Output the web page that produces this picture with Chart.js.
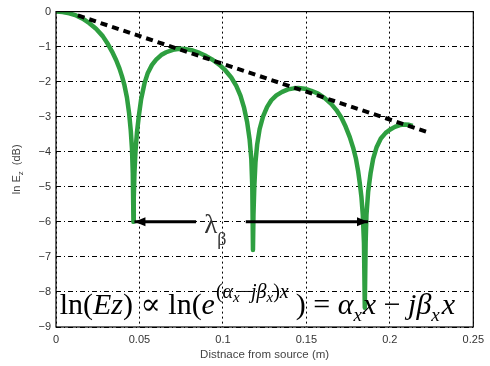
<!DOCTYPE html>
<html>
<head>
<meta charset="utf-8">
<script src="https://cdn.jsdelivr.net/npm/chart.js@4/dist/chart.umd.min.js"></script>
<style>
  html, body { margin: 0; padding: 0; background: #fff; }
  #wrap { width: 490px; height: 366px; }
</style>
</head>
<body>
<div id="wrap"><canvas id="c" width="490" height="366"></canvas></div>
<script>
// ---- data ----
const xTicks = [0, 0.05, 0.1, 0.15, 0.2, 0.25];
const xTickLabels = ["0", "0.05", "0.1", "0.15", "0.2", "0.25"];
const yTicks = [0, -1, -2, -3, -4, -5, -6, -7, -8, -9];
const yTickLabels = ["0", "\u22121", "\u22122", "\u22123", "\u22124", "\u22125", "\u22126", "\u22127", "\u22128", "\u22129"];

// field magnitude curve (green)
const fieldX = [0, 0.004, 0.008, 0.012, 0.016, 0.020, 0.024, 0.028, 0.031, 0.034, 0.036, 0.038, 0.0395, 0.041, 0.0425, 0.0438, 0.0448, 0.0455, 0.0460, 0.0464,
  0.0466, 0.0470, 0.0476, 0.0485, 0.0497, 0.051, 0.053, 0.055, 0.0575, 0.060, 0.063, 0.066, 0.070, 0.074, 0.078, 0.082, 0.086, 0.090, 0.094, 0.098, 0.1015, 0.105, 0.108, 0.1105, 0.1127, 0.1145, 0.116, 0.117, 0.1176, 0.1180,
  0.1183, 0.1188, 0.1195, 0.1205, 0.122, 0.124, 0.1265, 0.129, 0.132, 0.1355, 0.139, 0.1425, 0.1452, 0.149, 0.153, 0.157, 0.161, 0.165, 0.168, 0.171, 0.1735, 0.176, 0.178, 0.1797, 0.181, 0.182, 0.183, 0.1838, 0.1845, 0.1850,
  0.1855, 0.186, 0.187, 0.1885, 0.190, 0.192, 0.1946, 0.1975, 0.200, 0.203, 0.206, 0.209, 0.2115, 0.2137];
const fieldY = [0, -0.01, -0.05, -0.11, -0.2, -0.33, -0.49, -0.7, -0.92, -1.18, -1.38, -1.62, -1.84, -2.1, -2.45, -2.9, -3.4, -3.9, -4.6, -6.0,
  -5.3, -4.6, -4.0, -3.45, -2.95, -2.5, -2.05, -1.75, -1.52, -1.37, -1.24, -1.16, -1.09, -1.06, -1.07, -1.11, -1.18, -1.27, -1.38, -1.52, -1.68, -1.88, -2.12, -2.4, -2.75, -3.15, -3.65, -4.2, -5.0, -6.8,
  -5.8, -5.0, -4.3, -3.8, -3.35, -3.0, -2.72, -2.53, -2.39, -2.29, -2.22, -2.19, -2.18, -2.2, -2.26, -2.34, -2.47, -2.64, -2.81, -3.03, -3.28, -3.58, -3.88, -4.2, -4.55, -4.9, -5.3, -5.8, -6.6, -8.45,
  -6.6, -5.8, -5.15, -4.6, -4.2, -3.88, -3.62, -3.46, -3.37, -3.29, -3.24, -3.22, -3.23, -3.26];

// attenuation envelope (dashed)
const envX = [0.0131, 0.2226];
const envY = [-0.11, -3.44];

// wavelength arrows
const arrowLeftX = [0.0839, 0.0470];
const arrowRightX = [0.1137, 0.1869];
const arrowY = [-6, -6];

const xAxisTitle = "Distnace from source (m)";

// ---- build datasets ----
const pts = (xs, ys) => xs.map((x, i) => ({ x: x, y: ys[i] }));

const whiteBg = {
  id: 'whiteBg',
  beforeDraw(chart) {
    const ctx = chart.ctx;
    ctx.save();
    ctx.fillStyle = '#fff';
    ctx.fillRect(0, 0, chart.width, chart.height);
    ctx.restore();
  }
};

const decor = {
  id: 'decor',
  afterDatasetsDraw(chart) {
    const ctx = chart.ctx;
    const xs = chart.scales.x, ys = chart.scales.y;
    const a = chart.chartArea;
    ctx.save();
    // arrowheads
    const head = (x0, x1, y) => {
      const px0 = xs.getPixelForValue(x0), px1 = xs.getPixelForValue(x1), py = ys.getPixelForValue(y);
      const dir = px1 > px0 ? 1 : -1;
      ctx.fillStyle = '#000';
      ctx.beginPath();
      ctx.moveTo(px1, py);
      ctx.lineTo(px1 - dir * 11, py - 4.5);
      ctx.lineTo(px1 - dir * 11, py + 4.5);
      ctx.closePath();
      ctx.fill();
    };
    head(arrowLeftX[0], arrowLeftX[1], arrowY[1]);
    head(arrowRightX[0], arrowRightX[1], arrowY[1]);

    // frame
    ctx.strokeStyle = '#000';
    ctx.lineWidth = 1.2;
    ctx.strokeRect(a.left, a.top, a.right - a.left, a.bottom - a.top);

    // lambda_beta label
    ctx.fillStyle = '#333';
    ctx.textBaseline = 'alphabetic';
    ctx.textAlign = 'left';
    const lx = xs.getPixelForValue(0.0888), ly = ys.getPixelForValue(-6.33);
    ctx.font = '27px "Liberation Serif", "DejaVu Serif", serif';
    ctx.fillText('\u03bb', lx, ly);
    const lw = ctx.measureText('\u03bb').width;
    ctx.font = '18px "Liberation Serif", "DejaVu Serif", serif';
    ctx.fillText('\u03b2', lx + lw, ly + 12);

    // equation
    const ser = '"Liberation Serif", "DejaVu Serif", serif';
    const big = 30, sup = 20, sub = 15;
    let x = xs.getPixelForValue(0.0022);
    const base = ys.getPixelForValue(-8.62);
    const supBase = base - 16;
    ctx.fillStyle = '#000';
    const put = (t, size, italic, y) => {
      ctx.font = (italic ? 'italic ' : '') + size + 'px ' + ser;
      ctx.fillText(t, x, y);
      x += ctx.measureText(t).width;
    };
    put('ln(', big, false, base);
    put('Ez', big, true, base);
    put(') ', big, false, base);
    put('\u221d', big, false, base);
    put(' ln(', big, false, base);
    put('e', big, true, base);
    x += 1;
    put('(', sup, false, supBase);
    put('\u03b1', sup, true, supBase);
    put('x', sub, true, supBase + 4);
    put('\u2212', sup, false, supBase);
    put('j\u03b2', sup, true, supBase);
    put('x', sub, true, supBase + 4);
    put(')', sup, false, supBase);
    put('x', sup, true, supBase);
    x += 7;
    put(')', big, false, base);
    put(' = ', big, false, base);
    put('\u03b1', big, true, base);
    put('x', 19, true, base + 7);
    x += 1;
    put('x', big, true, base);
    put(' \u2212 ', big, false, base);
    put('j\u03b2', big, true, base);
    put('x', 19, true, base + 7);
    x += 2;
    put('x', big, true, base);

    // axis titles
    ctx.fillStyle = '#444';
    ctx.font = '11.5px "Liberation Sans", Arial, sans-serif';
    ctx.textAlign = 'center';
    ctx.fillText(xAxisTitle, (a.left + a.right) / 2, 358);

    ctx.translate(20, (a.top + a.bottom) / 2);
    ctx.rotate(-Math.PI / 2);
    ctx.textAlign = 'left';
    const f1 = '11px "Liberation Sans", Arial, sans-serif';
    const f2 = '8px "Liberation Sans", Arial, sans-serif';
    ctx.font = f1;
    const w1 = ctx.measureText('ln E').width;
    const w3 = ctx.measureText('  (dB)').width;
    ctx.font = f2;
    const w2 = ctx.measureText('z').width;
    let tx = -(w1 + w2 + w3) / 2;
    ctx.font = f1; ctx.fillText('ln E', tx, 0); tx += w1;
    ctx.font = f2; ctx.fillText('z', tx, 3); tx += w2;
    ctx.font = f1; ctx.fillText('  (dB)', tx, 0);
    ctx.restore();
  }
};

const tickFont = { family: '"Liberation Sans", Arial, sans-serif', size: 11 };

new Chart(document.getElementById('c'), {
  type: 'scatter',
  data: {
    datasets: [
      { label: 'arrowL', data: pts(arrowLeftX, arrowY), showLine: true, borderColor: '#000', borderWidth: 3, pointRadius: 0, order: 0, borderCapStyle: 'butt' },
      { label: 'arrowR', data: pts(arrowRightX, arrowY), showLine: true, borderColor: '#000', borderWidth: 3, pointRadius: 0, order: 0, borderCapStyle: 'butt' },
      { label: 'envelope', data: pts(envX, envY), showLine: true, borderColor: '#000', borderWidth: 4, borderDash: [7, 5], pointRadius: 0, order: 1, borderCapStyle: 'butt' },
      { label: 'field', data: pts(fieldX, fieldY), showLine: true, borderColor: '#2e9f40', borderWidth: 4.5, pointRadius: 0, order: 2, tension: 0, borderCapStyle: 'butt', borderJoinStyle: 'round' }
    ]
  },
  options: {
    responsive: false,
    animation: false,
    devicePixelRatio: 1,
    layout: { padding: { left: 0, right: 13, top: 7, bottom: 0 } },
    plugins: { legend: { display: false }, tooltip: { enabled: false } },
    scales: {
      x: {
        type: 'linear', min: 0, max: 0.25,
        afterBuildTicks: (s) => { s.ticks = xTicks.map(v => ({ value: v })); },
        afterFit: (s) => { s.height = 39; },
        grid: { color: '#000', lineWidth: 1, drawTicks: false },
        border: { display: false, dash: [2, 3] },
        ticks: {
          padding: 6, color: '#333', font: tickFont, maxRotation: 0, autoSkip: false,
          callback: (v) => { const i = xTicks.findIndex(t => Math.abs(t - v) < 1e-9); return i >= 0 ? xTickLabels[i] : ''; }
        }
      },
      y: {
        type: 'linear', min: -9, max: 0,
        afterBuildTicks: (s) => { s.ticks = yTicks.slice().reverse().map(v => ({ value: v })); },
        afterFit: (s) => { s.width = 56; },
        grid: { color: '#000', lineWidth: 1, drawTicks: false },
        border: { display: false, dash: [5, 3, 1, 3] },
        ticks: {
          padding: 5, color: '#333', font: tickFont, autoSkip: false,
          callback: (v) => { const i = yTicks.findIndex(t => Math.abs(t - v) < 1e-9); return i >= 0 ? yTickLabels[i] : ''; }
        }
      }
    }
  },
  plugins: [whiteBg, decor]
});
</script>
</body>
</html>
